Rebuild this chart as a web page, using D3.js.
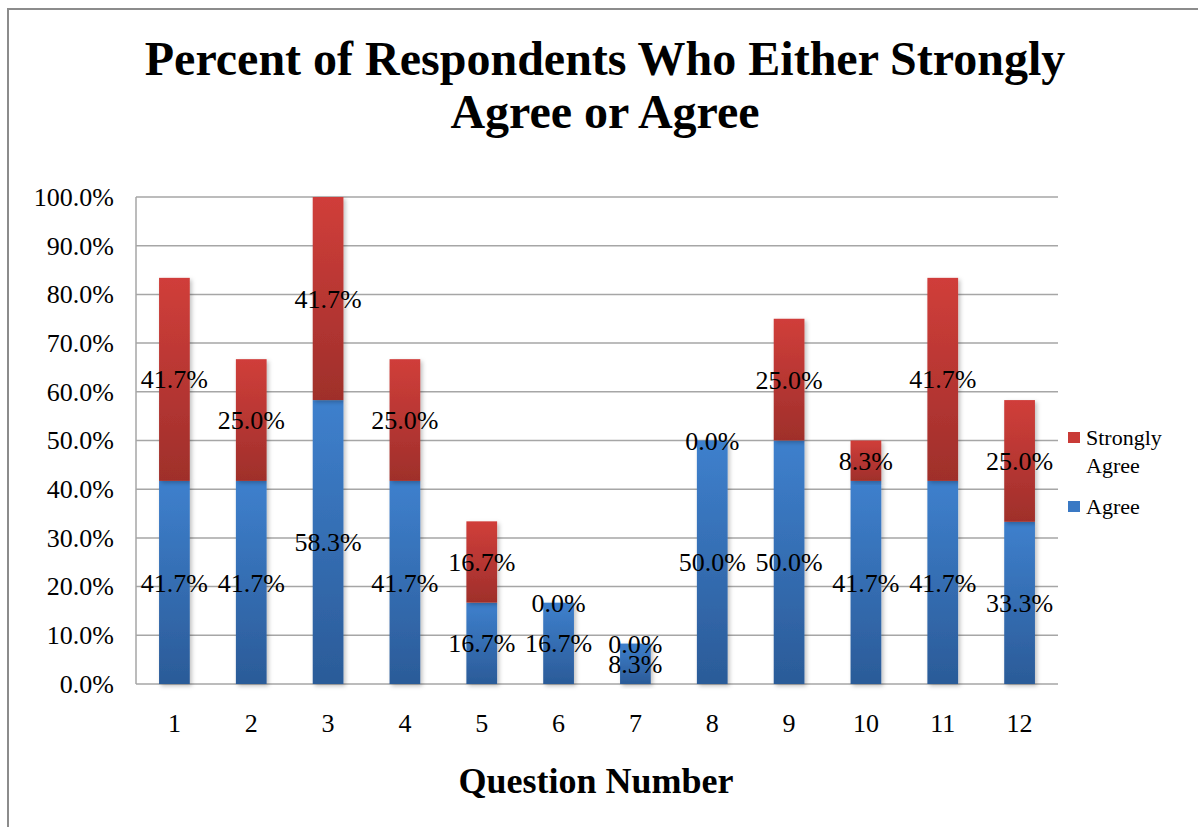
<!DOCTYPE html>
<html>
<head>
<meta charset="utf-8">
<script src="https://cdn.jsdelivr.net/npm/d3@7/dist/d3.min.js"></script>
<style>
  html, body { margin: 0; padding: 0; background: #fff; }
  svg, svg text { font-family: "Liberation Serif", "Times New Roman", serif; }
  svg { display: block; }
</style>
</head>
<body>
<svg id="chart" width="1198" height="827"></svg>
<script>
// Question numbers along the x axis
const questions = ["1", "2", "3", "4", "5", "6", "7", "8", "9", "10", "11", "12"];
// Percent answering "Agree" per question
const agree = [41.7, 41.7, 58.3, 41.7, 16.7, 16.7, 8.3, 50.0, 50.0, 41.7, 41.7, 33.3];
// Percent answering "Strongly Agree" per question
const stronglyAgree = [41.7, 25.0, 41.7, 25.0, 16.7, 0.0, 0.0, 0.0, 25.0, 8.3, 41.7, 25.0];
// Y axis tick values (percent)
const yTicks = [0, 10, 20, 30, 40, 50, 60, 70, 80, 90, 100];
const seriesNames = ["Agree", "Strongly Agree"];

const FONT = "Liberation Serif";
const svg = d3.select("#chart");
const W = 1198, H = 827;
const plot = { left: 136, right: 1058, top: 197, bottom: 684 };

// Outer chart frame
svg.append("rect")
  .attr("x", 8).attr("y", 9)
  .attr("width", W + 20).attr("height", H + 20)
  .attr("fill", "#fff").attr("stroke", "#8c8c8c").attr("stroke-width", 2);

const defs = svg.append("defs");
function vGrad(id, top, bottom) {
  const g = defs.append("linearGradient").attr("id", id)
    .attr("x1", 0).attr("y1", 0).attr("x2", 0).attr("y2", 1);
  g.append("stop").attr("offset", "0%").attr("stop-color", top);
  g.append("stop").attr("offset", "100%").attr("stop-color", bottom);
}
vGrad("gradAgree", "#3e80cd", "#2b5b98");
vGrad("gradStrong", "#d03e3a", "#9f2f2b");
const sh = defs.append("filter").attr("id", "shadow")
  .attr("x", "-20%").attr("y", "-5%").attr("width", "150%").attr("height", "115%");
sh.append("feDropShadow").attr("dx", 2).attr("dy", 2).attr("stdDeviation", 2)
  .attr("flood-color", "#000").attr("flood-opacity", 0.25);

const x = d3.scaleBand().domain(questions).range([plot.left, plot.right]).paddingInner(0.6).paddingOuter(0.3);
const y = d3.scaleLinear().domain([0, 100]).range([plot.bottom, plot.top]);

// Gridlines
svg.append("g").selectAll("line").data(yTicks).join("line")
  .attr("x1", plot.left).attr("x2", plot.right)
  .attr("y1", d => y(d)).attr("y2", d => y(d))
  .attr("stroke", "#a6a6a6").attr("stroke-width", 1.5);
svg.append("line")
  .attr("x1", plot.left).attr("x2", plot.left)
  .attr("y1", plot.top).attr("y2", plot.bottom)
  .attr("stroke", "#a6a6a6").attr("stroke-width", 1.5);

// Y axis labels
const yAxis = d3.axisLeft(y).tickValues(yTicks).tickSize(0).tickPadding(22)
  .tickFormat(d => d.toFixed(1) + "%");
const gy = svg.append("g").attr("transform", `translate(${plot.left},0)`).call(yAxis)
  .attr("font-family", FONT).attr("font-size", 26);
gy.select(".domain").remove();
gy.selectAll("text").attr("font-size", 26).attr("fill", "#000").attr("font-family", FONT);

// X axis labels
const xAxis = d3.axisBottom(x).tickSize(0).tickPadding(30);
const gx = svg.append("g").attr("transform", `translate(0,${plot.bottom})`).call(xAxis)
  .attr("font-family", FONT).attr("font-size", 26);
gx.select(".domain").remove();
gx.selectAll("text").attr("font-size", 26).attr("fill", "#000").attr("font-family", FONT);

// Stacked data
const rows = questions.map((q, i) => ({ q, Agree: agree[i], "Strongly Agree": stronglyAgree[i] }));
const stacked = d3.stack().keys(seriesNames)(rows);
const fills = { "Agree": "url(#gradAgree)", "Strongly Agree": "url(#gradStrong)" };

const barG = svg.append("g");
stacked.forEach(layer => {
  barG.append("g").selectAll("rect").data(layer).join("rect")
    .attr("x", d => x(d.data.q))
    .attr("width", x.bandwidth())
    .attr("y", d => y(d[1]))
    .attr("height", d => y(d[0]) - y(d[1]))
    .attr("fill", fills[layer.key])
    .attr("filter", "url(#shadow)");
});

// Data labels centred in each segment
const labG = svg.append("g").attr("font-family", FONT);
stacked.forEach(layer => {
  labG.append("g").selectAll("text").data(layer).join("text")
    .attr("x", d => x(d.data.q) + x.bandwidth() / 2)
    .attr("y", d => y((d[0] + d[1]) / 2))
    .attr("dy", "0.35em")
    .attr("text-anchor", "middle")
    .attr("font-family", FONT)
    .attr("font-size", 26)
    .attr("fill", "#000")
    .text(d => d.data[layer.key].toFixed(1) + "%");
});

// Title
const title = svg.append("text").attr("text-anchor", "middle").attr("font-family", FONT)
  .attr("font-weight", "bold").attr("font-size", 48).attr("fill", "#000");
title.append("tspan").attr("x", 605).attr("y", 75).text("Percent of Respondents Who Either Strongly");
title.append("tspan").attr("x", 605).attr("y", 128).text("Agree or Agree");

// X axis title
svg.append("text").attr("x", 596).attr("y", 793).attr("text-anchor", "middle")
  .attr("font-family", FONT)
  .attr("font-weight", "bold").attr("font-size", 36).attr("fill", "#000")
  .text("Question Number");

// Legend
const legend = [
  { key: "Strongly Agree", lines: ["Strongly", "Agree"], y: 432, color: "#c93b37" },
  { key: "Agree", lines: ["Agree"], y: 501, color: "#3a79c4" }
];
const lg = svg.append("g");
legend.forEach(item => {
  lg.append("rect").attr("x", 1068).attr("y", item.y).attr("width", 12).attr("height", 11)
    .attr("fill", item.color);
  const t = lg.append("text").attr("font-family", FONT).attr("font-size", 22).attr("fill", "#000");
  item.lines.forEach((ln, i) => {
    t.append("tspan").attr("x", 1086).attr("y", item.y + 13 + i * 28).text(ln);
  });
});
</script>
</body>
</html>
